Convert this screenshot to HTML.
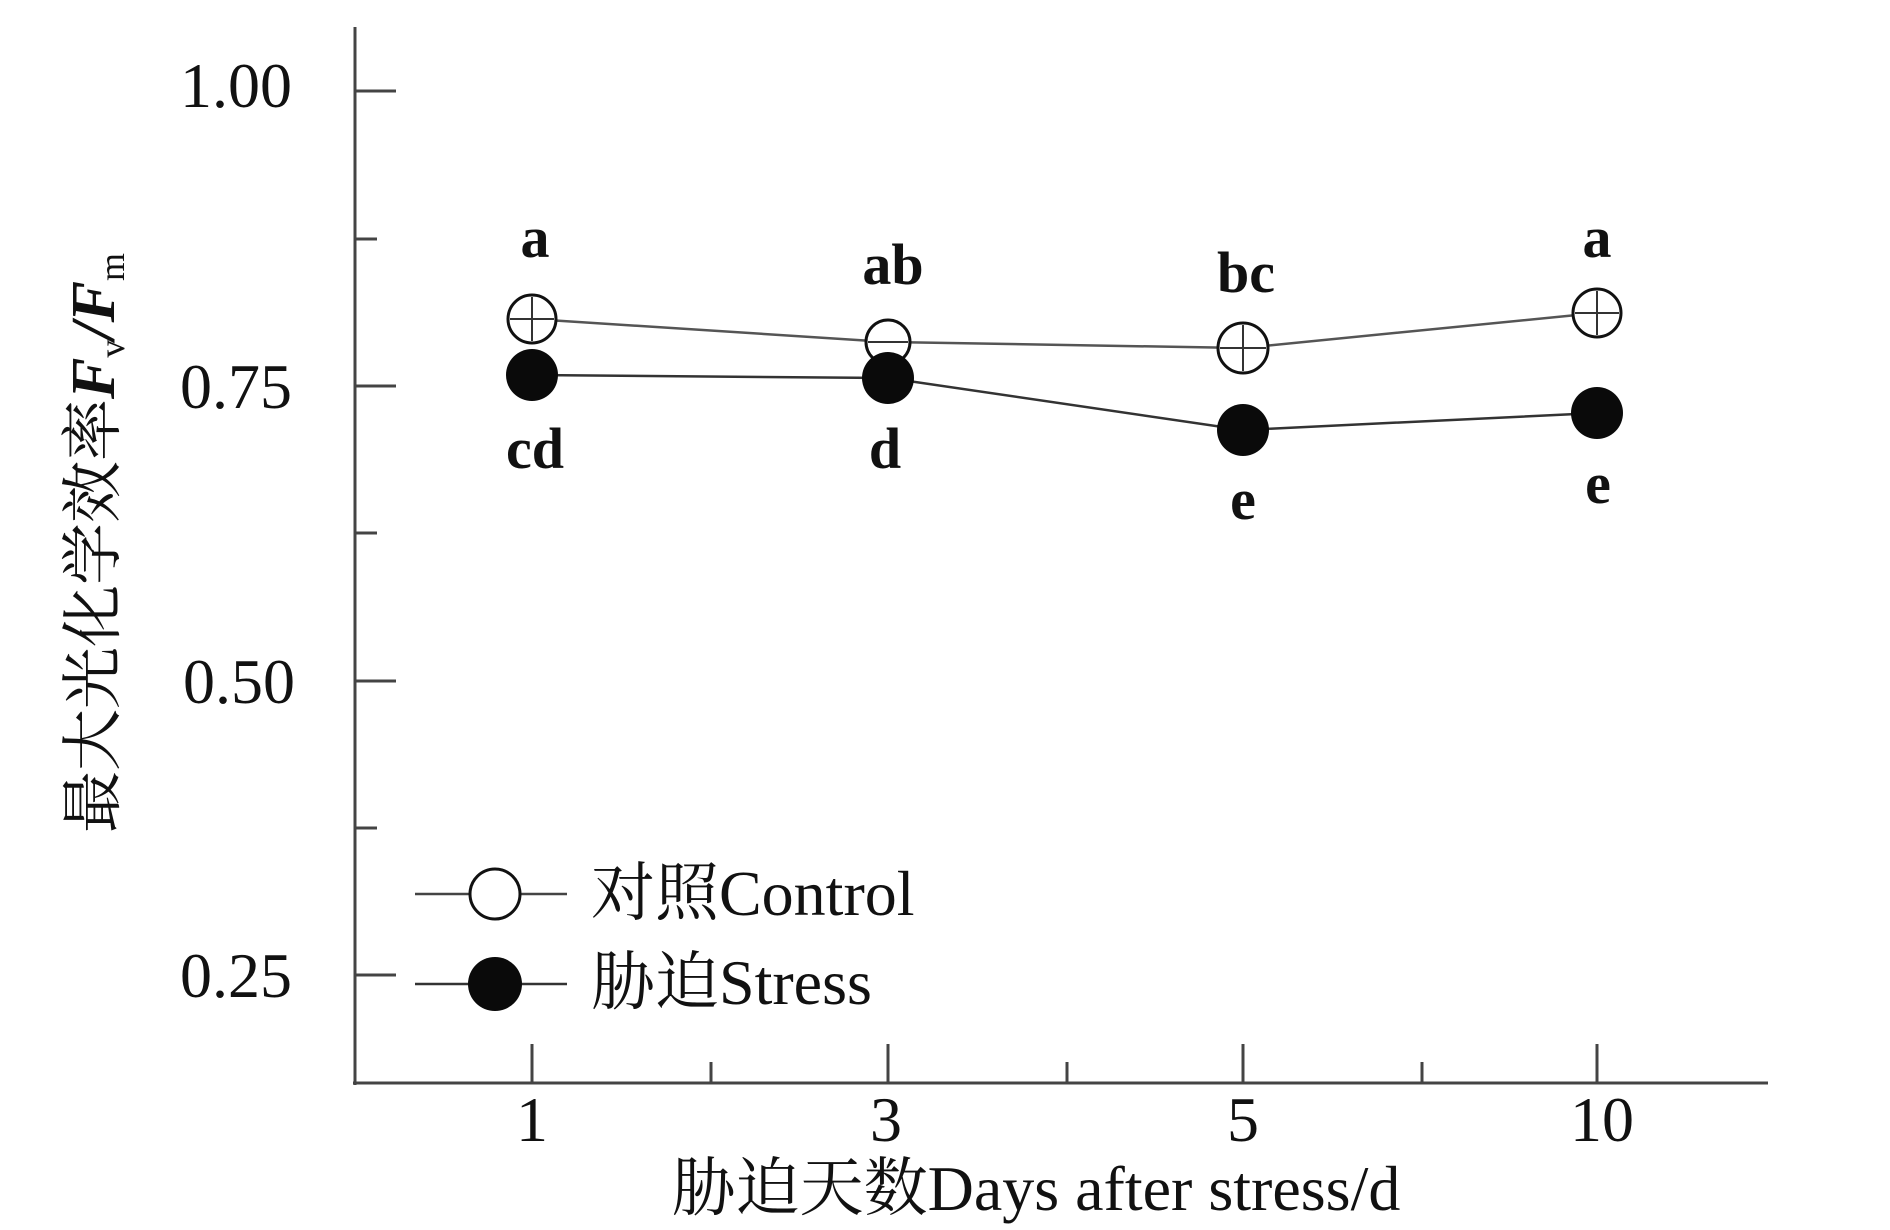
<!DOCTYPE html>
<html><head><meta charset="utf-8"><style>
body{margin:0;background:#fff}
svg text{font-family:"Liberation Serif","Noto Serif CJK SC",serif;fill:#111}
</style></head><body>
<svg width="1890" height="1225" viewBox="0 0 1890 1225" xmlns="http://www.w3.org/2000/svg">
<g stroke="#444" stroke-width="3" fill="none">
<line x1="355" y1="27" x2="355" y2="1085"/>
<line x1="353" y1="1083" x2="1768" y2="1083"/>
<line x1="355" y1="91" x2="396" y2="91"/>
<line x1="355" y1="239" x2="377" y2="239"/>
<line x1="355" y1="386" x2="396" y2="386"/>
<line x1="355" y1="533" x2="377" y2="533"/>
<line x1="355" y1="681" x2="396" y2="681"/>
<line x1="355" y1="828" x2="377" y2="828"/>
<line x1="355" y1="975" x2="396" y2="975"/>
<line x1="532" y1="1044" x2="532" y2="1083"/>
<line x1="711" y1="1062" x2="711" y2="1083"/>
<line x1="888" y1="1044" x2="888" y2="1083"/>
<line x1="1067" y1="1062" x2="1067" y2="1083"/>
<line x1="1243" y1="1044" x2="1243" y2="1083"/>
<line x1="1422" y1="1062" x2="1422" y2="1083"/>
<line x1="1597" y1="1044" x2="1597" y2="1083"/>
</g>
<g font-size="64" text-anchor="end">
<text x="292" y="107">1.00</text>
<text x="292" y="408">0.75</text>
<text x="295" y="703">0.50</text>
<text x="292" y="997">0.25</text>
</g>
<g font-size="64" text-anchor="middle">
<text x="532" y="1141">1</text>
<text x="886" y="1141">3</text>
<text x="1243" y="1141">5</text>
<text x="1602" y="1141">10</text>
<text x="1036" y="1210">胁迫天数Days after stress/d</text>
</g>
<text transform="translate(114,543) rotate(-90)" font-size="62" text-anchor="middle">最大光化学效率<tspan font-style="italic" font-weight="bold">F</tspan><tspan font-size="36" dy="10">v</tspan><tspan dy="-10" font-style="italic" font-weight="bold">/F</tspan><tspan font-size="36" dy="10">m</tspan></text>
<polyline points="532,319 888,342 1243,348 1597,313" stroke="#555" stroke-width="2.5" fill="none"/>
<polyline points="532,375 888,378 1243,430 1597,413" stroke="#333" stroke-width="2.5" fill="none"/>
<g stroke="#111" stroke-width="3" fill="#fff">
<circle cx="532" cy="319" r="24"/><circle cx="888" cy="342" r="22"/><circle cx="1243" cy="348" r="25"/><circle cx="1597" cy="313" r="24"/>
</g>
<g stroke="#333" stroke-width="2">
<line x1="510" y1="319" x2="554" y2="319"/><line x1="532" y1="297" x2="532" y2="341"/>
<line x1="868" y1="342" x2="908" y2="342"/>
<line x1="1220" y1="348" x2="1266" y2="348"/><line x1="1243" y1="325" x2="1243" y2="371"/>
<line x1="1575" y1="313" x2="1619" y2="313"/><line x1="1597" y1="291" x2="1597" y2="335"/>
</g>
<g fill="#0a0a0a">
<circle cx="532" cy="375" r="26"/><circle cx="888" cy="378" r="26"/><circle cx="1243" cy="430" r="26"/><circle cx="1597" cy="413" r="26"/>
</g>
<g font-size="58" font-weight="bold" text-anchor="middle">
<text x="535" y="257">a</text><text x="893" y="284">ab</text><text x="1246" y="292">bc</text><text x="1597" y="257">a</text>
<text x="535" y="468">cd</text><text x="885" y="468">d</text><text x="1243" y="519">e</text><text x="1598" y="503">e</text>
</g>
<line x1="415" y1="894" x2="567" y2="894" stroke="#444" stroke-width="2.5"/>
<circle cx="495" cy="894" r="25" stroke="#111" stroke-width="3" fill="#fff"/>
<line x1="415" y1="984" x2="567" y2="984" stroke="#333" stroke-width="2.5"/>
<circle cx="495" cy="984" r="27" fill="#0a0a0a"/>
<text x="591" y="915" font-size="64">对照Control</text>
<text x="591" y="1004" font-size="64">胁迫Stress</text>
</svg>
</body></html>
